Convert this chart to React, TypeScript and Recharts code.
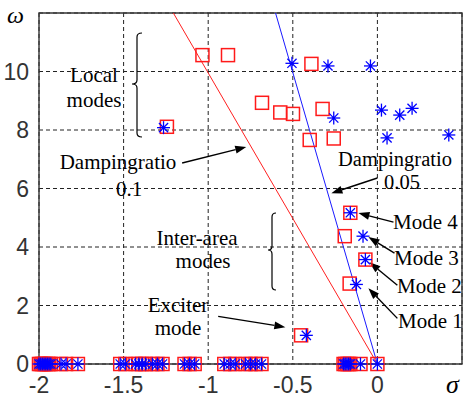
import React from 'react';
import { ScatterChart, Scatter, XAxis, YAxis, CartesianGrid, ReferenceLine, ReferenceArea } from 'recharts';

// Eigenvalues drawn as red squares (sigma, omega)
const squareSigma = [-1.244, -1.034, -0.883, -0.39, -0.682, -0.574, -0.499, -0.324, -0.40, -0.258, -0.16, -0.193, -0.071, -0.164, -0.451];
const squareOmega = [8.11, 10.56, 10.56, 10.26, 8.93, 8.60, 8.55, 8.72, 7.66, 7.71, 5.17, 4.37, 3.57, 2.75, 0.98];

// Eigenvalues drawn as blue asterisks (sigma, omega)
const starSigma = [-1.264, -0.505, -0.292, -0.041, -0.258, 0.024, 0.132, 0.205, 0.057, 0.422, -0.16, -0.085, -0.071, -0.124, -0.42];
const starOmega = [8.08, 10.28, 10.19, 10.19, 8.41, 8.68, 8.51, 8.74, 7.73, 7.83, 5.17, 4.37, 3.57, 2.72, 0.98];

// Real eigenvalues (omega = 0), shared by both sets
const realSigma = [-2.0, -1.99, -1.98, -1.97, -1.96, -1.95, -1.94, -1.93, -1.87, -1.84, -1.77,
  -1.52, -1.49, -1.43, -1.41, -1.39, -1.37, -1.33, -1.30, -1.27,
  -1.14, -1.11, -1.08,
  -0.905, -0.87, -0.84, -0.78, -0.75, -0.72, -0.685,
  -0.2, -0.19, -0.18, -0.17, -0.16, -0.1, 0.0];

const xTicks = [-2, -1.5, -1, -0.5, 0];
const yTicks = [0, 2, 4, 6, 8, 10];

// Damping ratio lines (end points)
const damping01 = [{ x: 0, y: 0 }, { x: -1.206, y: 12 }];
const damping005 = [{ x: 0, y: 0 }, { x: -0.602, y: 12 }];

// Annotation arrows [fromSigma, fromOmega, toSigma, toOmega]
const arrows = [
  [-1.154, 6.87, -0.775, 7.42],
  [0.0, 6.36, -0.272, 5.84],
  [-0.941, 1.63, -0.544, 1.26],
  [0.095, 4.85, -0.112, 5.16],
  [0.101, 3.79, -0.053, 4.34],
  [0.118, 2.69, -0.047, 3.48],
  [0.118, 1.56, -0.053, 2.59],
];

const squares = [
  ...squareSigma.map((s, i) => ({ x: s, y: squareOmega[i] })),
  ...realSigma.map((s) => ({ x: s, y: 0 })),
];
const stars = [
  ...starSigma.map((s, i) => ({ x: s, y: starOmega[i] })),
  ...realSigma.map((s) => ({ x: s, y: 0 })),
];

const SquareShape = (props: any) => {
  const { cx, cy } = props;
  return <rect x={cx - 6.5} y={cy - 6.5} width={13} height={13} fill="none" stroke="#ff1a1a" strokeWidth={1.5} />;
};

const StarShape = (props: any) => {
  const { cx, cy } = props;
  const r = 6.5;
  const d = 4.6;
  return (
    <g stroke="#0000ff" strokeWidth={1.3}>
      <line x1={cx - r} y1={cy} x2={cx + r} y2={cy} />
      <line x1={cx} y1={cy - r} x2={cx} y2={cy + r} />
      <line x1={cx - d} y1={cy - d} x2={cx + d} y2={cy + d} />
      <line x1={cx - d} y1={cy + d} x2={cx + d} y2={cy - d} />
      <circle cx={cx} cy={cy} r={1.6} fill="#0000ff" stroke="none" />
    </g>
  );
};

const ArrowShape = (props: any) => {
  const { x1, y1, x2, y2 } = props;
  const ang = Math.atan2(y2 - y1, x2 - x1);
  const len = 11;
  const w = 4;
  const bx = x2 - len * Math.cos(ang);
  const by = y2 - len * Math.sin(ang);
  const px = -Math.sin(ang) * w;
  const py = Math.cos(ang) * w;
  return (
    <g>
      <line x1={x1} y1={y1} x2={bx} y2={by} stroke="#000" strokeWidth={1.4} />
      <polygon points={`${x2},${y2} ${bx + px},${by + py} ${bx - px},${by - py}`} fill="#000" />
    </g>
  );
};

const brace = (xr: number, xl: number, top: number, mid: number, bottom: number) => {
  const xm = (xl + xr) / 2;
  const r = 4;
  return `M ${xr} ${top} Q ${xm} ${top} ${xm} ${top + r} L ${xm} ${mid - r} Q ${xm} ${mid} ${xl} ${mid} Q ${xm} ${mid} ${xm} ${mid + r} L ${xm} ${bottom - r} Q ${xm} ${bottom} ${xr} ${bottom}`;
};

const serif = "'Liberation Serif', 'Times New Roman', serif";
const sans = "'Liberation Sans', Arial, sans-serif";

export default function App() {
  return (
    <div style={{ position: 'absolute', left: 0, top: 0, width: 466, height: 401, background: '#fff' }}>
      <ScatterChart width={466} height={401} margin={{ top: 13, right: 4, left: 0, bottom: 0 }}>
        <CartesianGrid stroke="#222" strokeDasharray="4 3" strokeWidth={1} />
        <XAxis
          type="number"
          dataKey="x"
          domain={[-2, 0.5]}
          ticks={xTicks}
          height={37}
          tickSize={0}
          tickMargin={13}
          axisLine={false}
          tickLine={false}
          tick={{ fill: '#333', fontSize: 23, fontFamily: sans }}
        />
        <YAxis
          type="number"
          dataKey="y"
          domain={[0, 12]}
          ticks={yTicks}
          width={39}
          tickSize={0}
          tickMargin={10}
          axisLine={false}
          tickLine={false}
          tick={{ fill: '#333', fontSize: 23, fontFamily: sans }}
        />
        <ReferenceArea x1={-2} x2={0.5} y1={0} y2={12} fill="none" stroke="#333" strokeWidth={1.4} ifOverflow="visible" />
        <ReferenceLine segment={damping01} stroke="#ff2020" strokeWidth={1} ifOverflow="visible" />
        <ReferenceLine segment={damping005} stroke="#1a1aff" strokeWidth={1} ifOverflow="visible" />
        {arrows.map((a, i) => (
          <ReferenceLine
            key={i}
            segment={[{ x: a[0], y: a[1] }, { x: a[2], y: a[3] }]}
            ifOverflow="visible"
            shape={ArrowShape}
          />
        ))}
        <Scatter data={squares} shape={SquareShape} isAnimationActive={false} />
        <Scatter data={stars} shape={StarShape} isAnimationActive={false} />
      </ScatterChart>
      <svg width={466} height={401} style={{ position: 'absolute', left: 0, top: 0, pointerEvents: 'none' }}>
        <g fontFamily={serif} fontSize={21} fill="#000">
          <text x={94} y={82} textAnchor="middle">Local</text>
          <text x={94} y={107} textAnchor="middle">modes</text>
          <text x={118} y={169} textAnchor="middle">Dampingratio</text>
          <text x={129} y={196} textAnchor="middle">0.1</text>
          <text x={395} y={166} textAnchor="middle" fontSize={20.5}>Dampingratio</text>
          <text x={402} y={189} textAnchor="middle" fontSize={20.5}>0.05</text>
          <text x={197} y={245} textAnchor="middle">Inter-area</text>
          <text x={203} y={268} textAnchor="middle">modes</text>
          <text x={178} y={312} textAnchor="middle">Exciter</text>
          <text x={178} y={335} textAnchor="middle">mode</text>
          <text x={393} y={229}>Mode 4</text>
          <text x={394} y={265}>Mode 3</text>
          <text x={397} y={293}>Mode 2</text>
          <text x={398} y={328}>Mode 1</text>
        </g>
        <text x={7} y={23} fontFamily={serif} fontStyle="italic" fontSize={24} fill="#000">ω</text>
        <text x={446} y={393} fontFamily={serif} fontStyle="italic" fontSize={26} fill="#000">σ</text>
        <path d={brace(142, 132, 33, 84, 137)} fill="none" stroke="#000" strokeWidth={1.2} />
        <path d={brace(276, 268, 213, 250, 290)} fill="none" stroke="#000" strokeWidth={1.2} />
      </svg>
    </div>
  );
}
